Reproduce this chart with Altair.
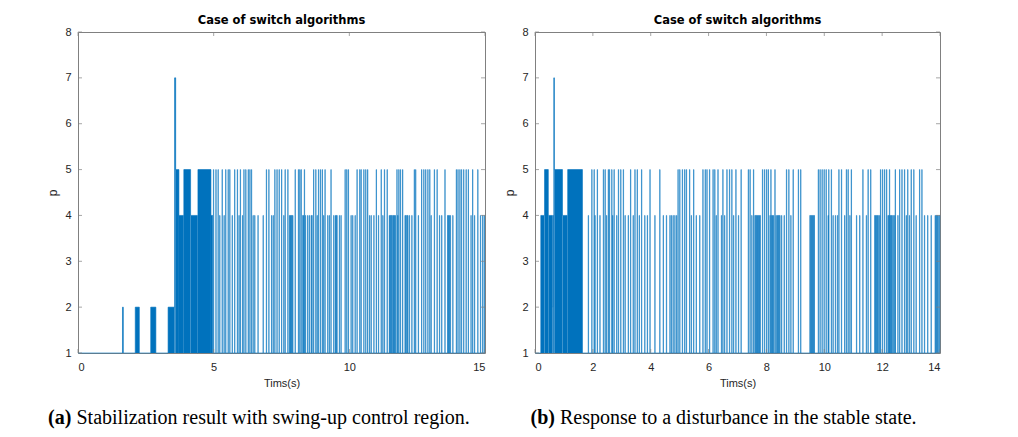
import altair as alt
import pandas as pd

BLUE = "#0072BD"
FRAME = "#808080"

# ---------------- Panel (a) : Stabilization with swing-up ----------------
a_block_start = [1.64, 2.11, 2.68, 3.32, 3.56, 3.60, 3.72, 3.90, 4.15, 4.42, 4.90]
a_block_end   = [1.67, 2.26, 2.87, 3.56, 3.60, 3.72, 3.90, 4.15, 4.40, 4.90, 4.96]
a_block_p     = [2, 2, 2, 2, 7, 5, 4, 5, 4, 5, 4]

a_spike5 = [4.99, 5.08, 5.16, 5.31, 5.44, 5.53, 5.59, 5.77, 5.87, 5.98, 6.11, 6.18, 6.27,
            6.33, 6.39, 6.94, 7.03, 7.25, 7.33, 7.41, 7.50, 7.63, 7.73, 8.00, 8.12, 8.17,
            8.22, 8.34, 8.68, 8.76, 8.86, 8.93, 9.00, 9.10, 9.32, 9.84, 9.90, 9.96, 10.28,
            10.38, 10.43, 10.53, 10.60, 10.67, 10.99, 11.17, 11.29, 11.39, 11.75, 11.82,
            11.88, 11.96, 12.39, 12.44, 12.66, 12.74, 12.81, 12.89, 12.96, 13.13, 13.23,
            13.52, 13.94, 14.00, 14.07, 14.13, 14.21, 14.30, 14.38, 14.54, 14.73]
a_spike4 = [5.22, 5.38, 5.68, 5.93, 6.06, 6.45, 6.51, 6.63, 6.82, 7.13, 7.19, 7.58, 7.79,
            7.82, 7.85, 7.88, 7.91, 8.28, 8.31, 8.38, 8.46, 8.52, 8.59, 8.62, 8.81, 9.05,
            9.20, 9.26, 9.42, 9.48, 9.51, 9.54, 9.63, 9.69, 10.06, 10.12, 10.21, 10.74,
            10.80, 10.90, 11.07, 11.23, 11.47, 11.50, 11.53, 11.56, 11.60, 11.63, 11.66,
            11.69, 11.78, 12.05, 12.08, 12.12, 12.15, 12.21, 12.30, 12.54, 13.01, 13.32,
            13.40, 13.62, 13.65, 13.68, 13.72, 13.81, 14.48, 14.61, 14.83, 14.91, 14.97]
a_xticks = [0, 5, 10, 15]
a_tmax = 15

# ---------------- Panel (b) : Disturbance response ----------------
b_block_start = [0.20, 0.33, 0.46, 0.60, 0.62, 0.65, 0.67, 0.95, 1.13]
b_block_end   = [0.33, 0.46, 0.60, 0.62, 0.65, 0.67, 0.95, 1.11, 1.64]
b_block_p     = [4, 5, 4, 2, 4, 7, 5, 4, 5]

b_spike5 = [1.96, 2.04, 2.15, 2.36, 2.42, 2.53, 2.57, 2.65, 2.73, 2.88, 2.96, 3.05, 3.30,
            3.45, 3.53, 3.68, 3.97, 4.31, 4.94, 5.00, 5.09, 5.17, 5.23, 5.34, 5.48, 5.80,
            5.88, 5.94, 6.03, 6.15, 6.21, 6.32, 6.49, 6.63, 6.72, 6.80, 6.94, 7.12, 7.37,
            7.43, 7.55, 7.86, 7.93, 8.00, 8.06, 8.15, 8.29, 8.69, 8.77, 8.92, 9.10, 9.18,
            9.79, 9.85, 9.92, 9.99, 10.06, 10.15, 10.24, 10.50, 10.59, 10.76, 10.82, 10.93,
            11.33, 11.51, 11.60, 11.94, 12.01, 12.08, 12.15, 12.25, 12.45, 12.60, 12.68,
            12.77, 12.88, 13.00, 13.09, 13.29, 13.37]
b_spike4 = [1.84, 2.07, 2.24, 2.47, 2.68, 2.82, 3.11, 3.22, 3.39, 3.60, 3.79, 3.88, 4.14,
            4.43, 4.54, 4.66, 4.71, 4.77, 4.83, 4.89, 5.40, 5.57, 5.69, 6.26, 6.44, 6.55,
            6.86, 7.03, 7.49, 7.60, 7.63, 7.66, 7.69, 7.72, 7.75, 7.78, 8.12, 8.18, 8.21,
            8.24, 8.33, 8.37, 8.40, 8.43, 8.46, 8.52, 8.61, 8.84, 9.50, 9.53, 9.56, 9.59,
            9.62, 9.65, 10.13, 10.30, 10.38, 10.45, 10.70, 10.88, 11.11, 11.22, 11.45,
            11.74, 11.77, 11.80, 11.83, 11.86, 11.91, 12.20, 12.23, 12.28, 12.31, 12.34,
            12.38, 12.43, 12.54, 12.83, 12.94, 13.17, 13.46, 13.57, 13.69, 13.83, 13.86,
            13.89, 13.92, 13.96, 13.99]
b_xticks = [0, 2, 4, 6, 8, 10, 12, 14]
b_tmax = 14

y_ticks = [1, 2, 3, 4, 5, 6, 7, 8]
TITLE = "Case of switch algorithms"
SPIKE_W = 0.012
H = 321


def build_signal(bs, be, bp, s5, s4, tmax):
    ivs = list(zip(bs, be, bp))
    ivs += [(t, t + SPIKE_W, 5) for t in s5]
    ivs += [(t, t + SPIKE_W, 4) for t in s4]
    pts = sorted(set([0.0, float(tmax)] + [v for s, e, _ in ivs for v in (s, e)]))
    pts = [p for p in pts if p <= tmax]
    rows = []
    for i in range(len(pts) - 1):
        mid = (pts[i] + pts[i + 1]) / 2
        v = max([p for s, e, p in ivs if s <= mid < e], default=1)
        rows.append({"t": pts[i], "p": v})
    rows.append({"t": float(tmax), "p": rows[-1]["p"]})
    return pd.DataFrame(rows)


def panel(bs, be, bp, s5, s4, tmax, xticks, W, cap_tag, cap_text, tag_x, text_x):
    xs = alt.Scale(domain=[0, tmax], nice=False, zero=False, padding=0)
    ys = alt.Scale(domain=[1, 8], nice=False, zero=False, padding=0)
    xax = alt.Axis(values=xticks, title="Tims(s)", grid=False, domain=False, ticks=False,
                   tickSize=0, labelPadding=8, titlePadding=5, labelFontSize=11,
                   titleFontSize=11, titleFontWeight="normal", labelColor="#262626",
                   titleColor="#262626", labelFont="Liberation Sans", titleFont="Liberation Sans")
    yax = alt.Axis(values=y_ticks, title="p", grid=False, domain=False, ticks=False,
                   tickSize=0, labelPadding=7, titlePadding=5, labelFontSize=11,
                   titleFontSize=12, titleFontWeight="normal", labelColor="#262626",
                   titleColor="#262626", labelFont="Liberation Sans", titleFont="Liberation Sans")

    sig = build_signal(bs, be, bp, s5, s4, tmax)
    blocks = pd.DataFrame({"s": bs, "e": be, "p": bp, "base": [1] * len(bs)})
    xt = pd.DataFrame({"x": xticks})
    yt = pd.DataFrame({"y": y_ticks})

    rect = alt.Chart(blocks).mark_rect(color=BLUE).encode(
        x=alt.X("s:Q", scale=xs, axis=xax), x2="e:Q",
        y=alt.Y("p:Q", scale=ys, axis=yax), y2="base:Q")
    line = alt.Chart(sig).mark_line(interpolate="step-after", color=BLUE, strokeWidth=0.6).encode(
        x=alt.X("t:Q", scale=xs, axis=xax), y=alt.Y("p:Q", scale=ys, axis=yax))
    tk_b = alt.Chart(xt).mark_tick(orient="vertical", size=4, thickness=1, color=FRAME).encode(
        x=alt.X("x:Q", scale=xs, axis=xax), y=alt.value(H - 2))
    tk_t = alt.Chart(xt).mark_tick(orient="vertical", size=4, thickness=1, color=FRAME).encode(
        x=alt.X("x:Q", scale=xs, axis=xax), y=alt.value(2))
    tk_l = alt.Chart(yt).mark_tick(orient="horizontal", size=4, thickness=1, color=FRAME).encode(
        y=alt.Y("y:Q", scale=ys, axis=yax), x=alt.value(2))
    tk_r = alt.Chart(yt).mark_tick(orient="horizontal", size=4, thickness=1, color=FRAME).encode(
        y=alt.Y("y:Q", scale=ys, axis=yax), x=alt.value(W - 2))
    cap1 = alt.Chart(pd.DataFrame({"c": [cap_tag]})).mark_text(
        align="left", baseline="alphabetic", font="Liberation Serif", fontSize=20,
        fontWeight="bold", color="#000000").encode(
        text="c:N", x=alt.value(tag_x), y=alt.value(392))
    cap2 = alt.Chart(pd.DataFrame({"c": [cap_text]})).mark_text(
        align="left", baseline="alphabetic", font="Liberation Serif", fontSize=20,
        color="#000000").encode(
        text="c:N", x=alt.value(text_x), y=alt.value(392))

    return alt.layer(rect, line, tk_b, tk_t, tk_l, tk_r, cap1, cap2).properties(
        width=W, height=H,
        title=alt.TitleParams(TITLE, fontSize=11.5, fontWeight="bold", font="DejaVu Sans",
                              color="#000000", offset=0))


pa = panel(a_block_start, a_block_end, a_block_p, a_spike5, a_spike4, a_tmax, a_xticks, 407,
           "(a)", "Stabilization result with swing-up control region.", -30, -1.5)
pb = panel(b_block_start, b_block_end, b_block_p, b_spike5, b_spike4, b_tmax, b_xticks, 405,
           "(b)", "Response to a disturbance in the stable state.", -4.5, 25)

chart = alt.hconcat(pa, pb, spacing=16).properties(
    padding={"left": 38, "top": 6, "right": 5, "bottom": 5},
    background="white",
).configure_view(stroke=FRAME, strokeWidth=1)

chart.save("out.html", embed_options={"renderer": "svg", "actions": False})
